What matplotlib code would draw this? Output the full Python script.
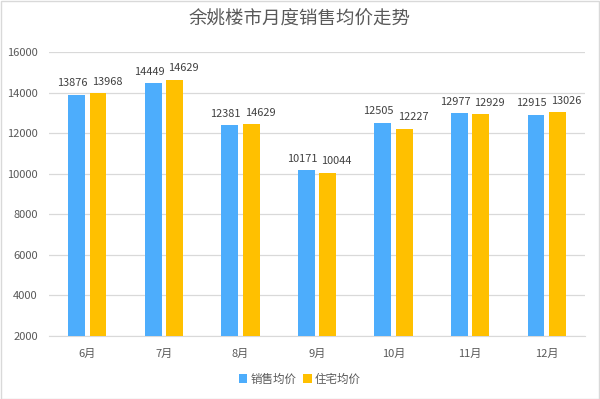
import matplotlib.pyplot as plt
import numpy as np

plt.rcParams['font.family'] = ['Noto Sans CJK SC', 'DejaVu Sans']

# data
months = ['6月', '7月', '8月', '9月', '10月', '11月', '12月']
sales_avg = [13876, 14449, 12381, 10171, 12505, 12977, 12915]
house_avg = [13968, 14629, 12440, 10044, 12227, 12929, 13026]
# labels as printed (8月 yellow label differs from its bar in the original)
sales_lbl = ['13876', '14449', '12381', '10171', '12505', '12977', '12915']
house_lbl = ['13968', '14629', '14629', '10044', '12227', '12929', '13026']

blue = '#4DADFC'
yellow = '#FFC000'

fig = plt.figure(figsize=(6, 3.99), dpi=100)
ax = fig.add_axes([0.0817, 0.158, 0.8933, 0.7117])

x = np.arange(len(months))
w = 0.22
gap = 0.06
b1 = ax.bar(x - (w + gap) / 2, sales_avg, w, color=blue, label='销售均价', zorder=3)
b2 = ax.bar(x + (w + gap) / 2, house_avg, w, color=yellow, label='住宅均价', zorder=3)

for rect, t in zip(b1, sales_lbl):
    ax.text(rect.get_x() + rect.get_width() / 2 - 0.055, rect.get_height() + 330, t,
            ha='center', va='bottom', fontsize=7.9, color='#404040', zorder=4)
for rect, t in zip(b2, house_lbl):
    ax.text(rect.get_x() + rect.get_width() / 2 + 0.115, rect.get_height() + 330, t,
            ha='center', va='bottom', fontsize=7.9, color='#404040', zorder=4)

ax.set_ylim(2000, 16000)
ax.set_yticks(range(2000, 16001, 2000))
ax.set_xlim(-0.5, len(months) - 0.5)
ax.set_xticks(x)
ax.set_xticklabels(months)
ax.grid(axis='y', color='#d9d9d9', linewidth=0.9, zorder=0)
ax.tick_params(axis='both', length=0, labelsize=8, colors='#595959')
ax.tick_params(axis='x', pad=9)
ax.tick_params(axis='y', pad=8)
for s in ['top', 'right', 'left']:
    ax.spines[s].set_visible(False)
ax.spines['bottom'].set_color('#d9d9d9')

fig.text(0.5, 0.95, '余姚楼市月度销售均价走势', ha='center', va='center',
         fontsize=13.3, color='#595959')

fig.legend(loc='center', bbox_to_anchor=(0.5, 0.05), ncol=2, frameon=False,
           fontsize=8.3, handlelength=0.7, handleheight=0.7, handletextpad=0.3,
           columnspacing=0.6, labelcolor='#595959')

fig.patches.append(plt.Rectangle((0.001, 0.001), 0.998, 0.997, transform=fig.transFigure,
                                 fill=False, edgecolor='#d9d9d9', linewidth=1))

fig.savefig('out.png', dpi=100)
